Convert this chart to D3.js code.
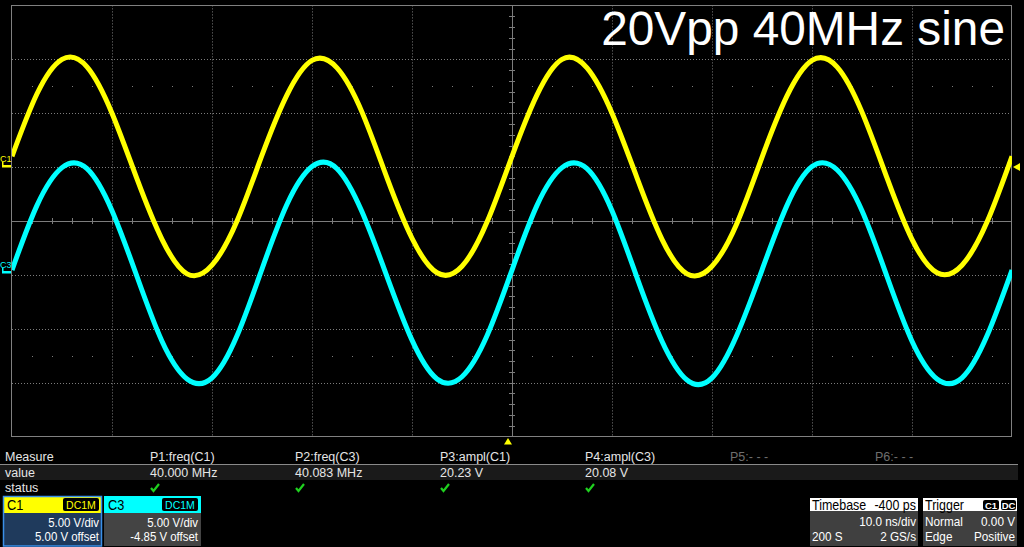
<!DOCTYPE html>
<html><head><meta charset="utf-8">
<script src="https://cdn.jsdelivr.net/npm/d3@7"></script>
<style>html,body{margin:0;padding:0;background:#000;overflow:hidden}</style>
</head><body>
<svg id="c" width="1024" height="547"></svg>
<script>
const title = "20Vpp 40MHz sine";
const timeNs = [-50,-47.5,-45,-42.5,-40,-37.5,-35,-32.5,-30,-27.5,-25,-22.5,-20,-17.5,-15,-12.5,-10,-7.5,-5,-2.5,0,2.5,5,7.5,10,12.5,15,17.5,20,22.5,25,27.5,30,32.5,35,37.5,40,42.5,45,47.5,50];
const c1Volts = [1.0,6.8,10.0,9.3,5.0,-1.1,-6.7,-9.9,-9.1,-5.0,
                 1.1,6.7,9.9,9.2,5.1,-1.0,-6.6,-9.8,-9.2,-5.1,
                 1.0,6.7,10.0,9.2,5.0,-1.0,-6.7,-9.9,-9.2,-5.2,
                 0.9,6.6,9.9,9.3,5.1,-1.0,-6.7,-9.8,-9.1,-5.1,1.0];
const c3Volts = [0.3,6.3,9.8,9.7,5.8,-0.3,-6.3,-9.8,-9.7,-5.8,
                 0.4,6.4,9.9,9.7,5.7,-0.3,-6.2,-9.8,-9.6,-5.8,
                 0.3,6.3,9.8,9.7,5.8,-0.4,-6.3,-9.9,-9.7,-5.7,
                 0.3,6.3,9.9,9.6,5.8,-0.3,-6.3,-9.8,-9.7,-5.8,0.3];
const channels = ["C1","C3"];
const voltsPerDiv = [5.00, 5.00];
const offsetsV = [5.00, -4.85];
const coupling = ["DC1M","DC1M"];
const measureNames = ["P1:freq(C1)","P2:freq(C3)","P3:ampl(C1)","P4:ampl(C3)","P5:- - -","P6:- - -"];
const measureValues = ["40.000 MHz","40.083 MHz","20.23 V","20.08 V","",""];
const measureOk = [true,true,true,true,false,false];
const timebaseDelay = "-400 ps";
const timebaseDiv = "10.0 ns/div";
const sampleCount = "200 S";
const sampleRate = "2 GS/s";
const triggerMode = "Normal", triggerLevel = "0.00 V", triggerType = "Edge", triggerSlope = "Positive";
const triggerTimeNs = -0.4, triggerLevelV = 0.0;

// ---- drawing ----
const svg = d3.select("#c");
const W = 1024, H = 547;
svg.append("rect").attr("width",W).attr("height",H).attr("fill","#000");
const gx0 = 12, gx1 = 1012, gy0 = 5.4, gy1 = 436.6;
const x = d3.scaleLinear().domain([-50,50]).range([gx0,gx1]);
const yDiv = d3.scaleLinear().domain([-4,4]).range([gy1,gy0]);
const px = v => Math.round(v)+0.5;
const grid = svg.append("g");
const gridCol = "#7c7c7c";
d3.range(-40,41,10).filter(t=>t!==0).forEach(t=>{
  grid.append("line").attr("x1",px(x(t))).attr("x2",px(x(t))).attr("y1",gy0).attr("y2",gy1)
    .attr("stroke",gridCol).attr("stroke-dasharray","1,2");
});
d3.range(-3,4,1).filter(d=>d!==0).forEach(d=>{
  grid.append("line").attr("y1",px(yDiv(d))).attr("y2",px(yDiv(d))).attr("x1",gx0).attr("x2",gx1)
    .attr("stroke",gridCol).attr("stroke-dasharray","1,2");
});
[-2.5,2.5].forEach(d=>{
  d3.range(-48,49,2).filter(t=>t%10!==0).forEach(t=>{
    grid.append("rect").attr("x",Math.round(x(t))).attr("y",Math.round(yDiv(d))).attr("width",1).attr("height",1).attr("fill",gridCol);
  });
});
grid.append("line").attr("x1",gx0).attr("x2",gx1).attr("y1",px(yDiv(0))).attr("y2",px(yDiv(0))).attr("stroke",gridCol);
grid.append("line").attr("y1",gy0).attr("y2",gy1).attr("x1",px(x(0))).attr("x2",px(x(0))).attr("stroke",gridCol);
d3.range(-48,49,2).filter(t=>t!==0).forEach(t=>{
  grid.append("line").attr("x1",px(x(t))).attr("x2",px(x(t))).attr("y1",yDiv(0)-3).attr("y2",yDiv(0)+3).attr("stroke",gridCol);
});
d3.range(-3.8,3.81,0.2).filter(d=>Math.abs(d)>0.01).forEach(d=>{
  grid.append("line").attr("y1",px(yDiv(d))).attr("y2",px(yDiv(d))).attr("x1",x(0)-3).attr("x2",x(0)+3).attr("stroke",gridCol);
});
grid.append("rect").attr("x",gx0-0.5).attr("y",5.5).attr("width",gx1-gx0).attr("height",431).attr("fill","none").attr("stroke","#808080");

svg.append("clipPath").attr("id","clip").append("rect").attr("x",gx0).attr("y",gy0).attr("width",gx1-gx0).attr("height",gy1-gy0);
const colors = ["#ffff00","#00ffff"];
const series = [c1Volts, c3Volts];
series.forEach((vals,i)=>{
  const line = d3.line().x((d,j)=>x(timeNs[j])).y(d=>yDiv((d+offsetsV[i])/voltsPerDiv[i])).curve(d3.curveNatural);
  svg.append("path").attr("d",line(vals)).attr("fill","none").attr("stroke",colors[i])
    .attr("stroke-width",5).attr("clip-path","url(#clip)");
});
svg.append("text").attr("x",1005).attr("y",45).attr("text-anchor","end")
  .attr("font-family","'Liberation Sans',Arial,sans-serif").attr("font-size",47.8).attr("fill","#fff").text(title);

channels.forEach((c,i)=>{
  const yy = Math.round(yDiv(offsetsV[i]/voltsPerDiv[i]));
  svg.append("text").attr("x",0).attr("y",yy-5).attr("font-family","'Liberation Sans',Arial,sans-serif")
    .attr("font-size",9).attr("fill",colors[i]).text(c);
  svg.append("rect").attr("x",2).attr("y",yy-2).attr("width",9).attr("height",2.5).attr("fill",colors[i]);
  svg.append("rect").attr("x",2).attr("y",yy-5).attr("width",1.5).attr("height",5).attr("fill",colors[i]);
});
const ty = yDiv((triggerLevelV+offsetsV[0])/voltsPerDiv[0]);
svg.append("path").attr("d",`M1013,${ty} L1020,${ty-4} L1020,${ty+4} Z`).attr("fill","#ffff00");
const tx = x(triggerTimeNs);
svg.append("path").attr("d",`M${tx},438 L${tx-4},444.5 L${tx+4},444.5 Z`).attr("fill","#ffff00");

const font = "'Liberation Sans',Arial,sans-serif";
svg.append("rect").attr("x",0).attr("y",465).attr("width",1018).attr("height",15).attr("fill","#1a1a1a");
svg.append("line").attr("x1",0).attr("x2",1018).attr("y1",464.5).attr("y2",464.5).attr("stroke","#8a8a8a");
const rowLabels = ["Measure","value","status"], rowY = [461,477,492];
rowLabels.forEach((r,i)=>svg.append("text").attr("x",5).attr("y",rowY[i]).attr("font-family",font).attr("font-size",12.5).attr("fill","#e6e6e6").text(r));
measureNames.forEach((m,i)=>{
  const cx = 150 + 145*i;
  svg.append("text").attr("x",cx).attr("y",rowY[0]).attr("font-family",font).attr("font-size",12.5)
    .attr("fill", measureOk[i] ? "#e6e6e6" : "#6e6e6e").text(m);
  svg.append("text").attr("x",cx).attr("y",rowY[1]).attr("font-family",font).attr("font-size",12.5).attr("fill","#e6e6e6").text(measureValues[i]);
  if (measureOk[i]) svg.append("path").attr("d",`M${cx+1},${488} L${cx+3.5},${491} L${cx+9},${484}`)
    .attr("fill","none").attr("stroke","#1fd11f").attr("stroke-width",2.2);
});

// condensed text helper: horizontal scale to mimic a narrow face
function ntext(xp, yp, str, size, fill, anchor, sx){
  return svg.append("text").attr("transform",`translate(${xp},${yp}) scale(${sx||0.88},1)`)
    .attr("text-anchor",anchor||"start").attr("font-family",font).attr("font-size",size).attr("fill",fill).text(str);
}

const boxX = [3,104], boxW = [99,97];
const bodyFill = ["#1f3a5c","#444444"];
channels.forEach((c,i)=>{
  const bx = boxX[i], bw = boxW[i];
  svg.append("rect").attr("x",bx).attr("y",496).attr("width",bw).attr("height",50).attr("fill",bodyFill[i]);
  svg.append("rect").attr("x",bx).attr("y",496).attr("width",bw).attr("height",17).attr("fill",colors[i]);
  if (i===0) svg.append("rect").attr("x",bx+0.5).attr("y",496.5).attr("width",bw-1).attr("height",49.5).attr("fill","none").attr("stroke","#3a8fe8").attr("stroke-width",1.5);
  ntext(bx+4, 510, c, 15, "#000", "start", 0.85);
  svg.append("rect").attr("x",bx+bw-39).attr("y",498).attr("width",36).attr("height",13).attr("rx",2).attr("fill","#000");
  svg.append("text").attr("x",bx+bw-21).attr("y",508.5).attr("text-anchor","middle").attr("font-family",font).attr("font-size",10.5).attr("fill",colors[i]).text(coupling[i]);
  ntext(bx+bw-3, 526.5, voltsPerDiv[i].toFixed(2)+" V/div", 13, "#fff", "end");
  ntext(bx+bw-3, 541, offsetsV[i].toFixed(2)+" V offset", 13, "#fff", "end");
});

function infoBox(bx,bw,head,headRight,rows){
  svg.append("rect").attr("x",bx).attr("y",498).attr("width",bw).attr("height",48).attr("fill","#404040");
  svg.append("rect").attr("x",bx).attr("y",498).attr("width",bw).attr("height",13).attr("fill","#fff");
  ntext(bx+2, 509.5, head, 14.5, "#000", "start", 0.86);
  if (headRight) ntext(bx+bw-2, 509.5, headRight, 14.5, "#000", "end", 0.86);
  rows.forEach((r,k)=>{
    const yy = [526,541][k];
    if (r[0]) ntext(bx+2, yy, r[0], 13.5, "#fff", "start", 0.87);
    if (r[1]) ntext(bx+bw-2, yy, r[1], 13.5, "#fff", "end", 0.87);
  });
}
infoBox(810,108,"Timebase",timebaseDelay,[["",timebaseDiv],[sampleCount,sampleRate]]);
infoBox(923,94,"Trigger",null,[[triggerMode,triggerLevel],[triggerType,triggerSlope]]);
[["C1",983,16],["DC",1001,15]].forEach(b=>{
  svg.append("rect").attr("x",b[1]).attr("y",500).attr("width",b[2]).attr("height",10).attr("rx",2).attr("fill","#000");
  svg.append("text").attr("x",b[1]+b[2]/2).attr("y",508.5).attr("text-anchor","middle").attr("font-family",font).attr("font-size",9.5).attr("font-weight","bold").attr("fill","#fff").text(b[0]);
});
</script>
</body></html>
